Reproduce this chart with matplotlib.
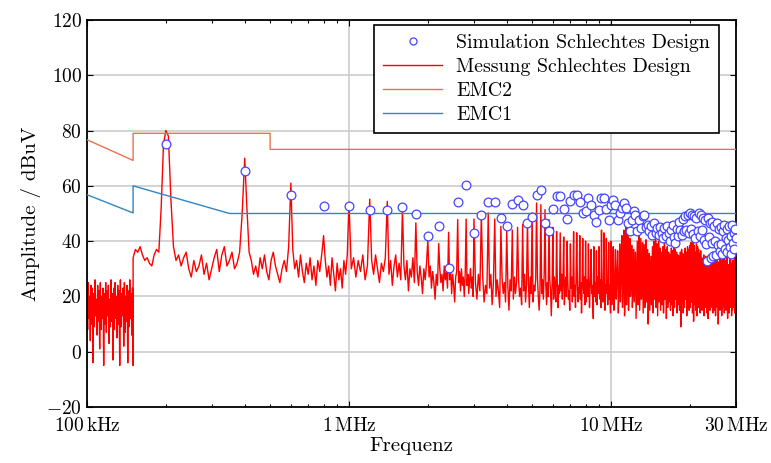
import numpy as np
import matplotlib.pyplot as plt
from matplotlib.ticker import FixedLocator, NullFormatter, MultipleLocator

plt.rcParams['font.family'] = ['cmr10']
plt.rcParams['mathtext.fontset'] = 'cm'
plt.rcParams['axes.formatter.use_mathtext'] = True

# harmonics of the 200 kHz switching frequency, in MHz
harm_mhz = 0.2 * np.arange(1, 151)

# simulated amplitude at every harmonic, dBuV
sim_db = [
    75.0, 65.5, 56.8, 52.6, 52.6, 51.1, 51.1, 52.3, 49.8, 41.7,
    45.3, 30.3, 54.2, 60.4, 43.1, 49.3, 54.2, 54.2, 48.5, 45.5,
    53.3, 54.9, 53.2, 46.6, 48.8, 56.7, 58.4, 46.7, 43.5, 51.8,
    56.3, 56.3, 51.6, 48.0, 54.6, 56.8, 56.8, 54.0, 50.2, 51.0,
    55.6, 53.2, 49.5, 47.1, 51.4, 55.7, 55.7, 51.6, 47.8, 53.0,
    55.0, 53.2, 47.8, 50.0, 52.0, 53.8, 52.0, 46.6, 43.5, 47.8,
    50.8, 49.5, 43.5, 47.8, 44.7, 49.0, 49.6, 45.0, 46.0, 43.5,
    45.5, 42.3, 46.6, 43.0, 44.7, 42.3, 45.0, 43.0, 41.1, 44.7,
    42.0, 45.5, 42.9, 39.9, 44.0, 45.9, 41.5, 39.3, 44.5, 42.0,
    47.1, 44.1, 42.3, 48.0, 43.5, 49.0, 44.0, 49.5, 43.0, 50.0,
    44.5, 49.5, 42.5, 49.0, 41.0, 48.5, 43.5, 50.0, 42.0, 49.5,
    44.0, 48.5, 40.5, 47.5, 39.0, 32.7, 48.5, 41.5, 46.5, 34.0,
    47.0, 39.5, 34.5, 45.5, 40.0, 35.0, 46.5, 38.5, 44.5, 36.5,
    45.0, 39.0, 35.5, 43.5, 46.0, 37.0, 41.0, 44.5, 36.0, 40.5,
    45.5, 38.0, 42.0, 35.5, 46.0, 39.5, 43.0, 37.0, 44.5, 41.0,
]

# measured spectrum: value at each harmonic
meas_peak_db = [
    80, 70, 61, 42, 54, 55.2, 54.4, 51.4, 46.6, 40.5,
    39.1, 43.2, 47.8, 48.0, 48.0, 49.6, 50.2, 48.0, 45.3, 43.5,
    44.0, 45.0, 46.0, 47.8, 50.2, 53.8, 53.2, 51.4, 47.8, 45.0,
    43.5, 43.0, 41.5, 40.0, 39.0, 43.4, 43.0, 42.0, 41.0, 40.0,
    39.0, 37.0, 38.0, 36.5, 38.0, 44.0, 43.0, 41.0, 39.5, 40.0,
    38.0, 37.0, 36.5, 39.0, 42.0, 44.0, 45.0, 43.5, 41.0, 38.5,
    37.0, 36.0, 40.0, 42.0, 41.0, 39.5, 38.7, 40.5, 37.0, 35.5,
    34.5, 38.0, 40.0, 40.5, 39.0, 40.0, 37.5, 36.0, 38.0, 39.5,
    37.0, 38.0, 36.0, 35.0, 37.5, 36.5, 38.5, 37.0, 36.0, 35.0,
    34.5, 36.0, 37.0, 35.5, 34.0, 37.5, 36.0, 38.0, 37.0, 38.5,
    39.5, 37.5, 40.0, 38.5, 36.0, 39.0, 38.0, 37.0, 35.5, 36.5,
    34.0, 33.5, 35.0, 32.0, 34.5, 31.5, 33.0, 34.0, 32.5, 35.0,
    33.5, 36.0, 34.0, 32.0, 33.5, 35.5, 34.5, 32.5, 31.0, 34.0,
    35.0, 33.0, 31.5, 34.5, 36.0, 33.0, 32.0, 35.5, 34.0, 31.5,
    30.5, 33.5, 35.0, 32.0, 30.0, 33.0, 31.5, 34.5, 33.0, 30.0,
]

# measured spectrum: 100 kHz .. 150 kHz
meas_below_150k = [
    22, 8, 25, 12, 20, 4, 24, 10, 23, -4, 21, 9, 26, 13, 19, 6, 24, 11, 22, 1,
    25, 8, 20, 12, 23, -5, 21, 10, 25, 7, 22, 13, 24, 3, 19, 9, 26, 11, 21, -3,
    23, 8, 25, 12, 20, 5, 24, 10, 22, -5, 26, 9, 21, 13, 23, 2, 25, 7, 20, 11,
    24, -4, 22, 9, 26, 12, 21, 6, 23, -5,
]

# measured spectrum: 150 kHz .. first harmonic
meas_150k_200k = [34, 37, 36, 38, 35, 33, 34, 32, 31, 35, 37, 36, 52, 75]

# measured spectrum between the harmonics 200k-400k-600k-800k-1M
meas_gap_lf = [
    [78, 55, 38, 33, 35, 31, 34, 36, 30, 27, 33, 29, 31, 35, 28,
     32, 26, 30, 34, 37, 29, 35, 38, 31, 33, 36, 30, 32, 36, 50],
    [52, 36, 33, 28, 31, 27, 34, 30, 35, 29, 26, 33, 36, 31, 28,
     25, 30, 33, 29, 38],
    [37, 30, 33, 27, 35, 29, 25, 32, 28, 34, 26, 31, 24, 33, 29, 35],
    [33, 27, 31, 24, 34, 28, 22, 32, 26, 30, 23, 33, 28, 35],
]

# between harmonics 1 MHz .. 3 MHz, 8 values per gap
meas_gap_1_3 = [
    30, 34, 27, 33, 29, 35, 26, 31,
    33, 28, 35, 30, 25, 32, 29, 34,
    28, 33, 24, 31, 35, 27, 32, 26,
    31, 26, 33, 22, 30, 27, 34, 25,
    29, 24, 31, 27, 21, 30, 26, 32,
    27, 31, 23, 29, 25, 19, 28, 24,
    30, 25, 28, 22, 31, 26, 29, 23,
    26, 30, 21, 28, 24, 18, 27, 29,
    25, 29, 22, 30, 24, 27, 20, 28,
    24, 28, 21, 26, 30, 23, 27, 20,
]

# between harmonics 3 MHz .. 10 MHz, 4 values per gap
meas_gap_3_10 = [
    25, 19, 28, 22, 27, 18, 24, 21, 23, 28, 17, 25, 20, 26, 22, 16,
    27, 21, 25, 18, 24, 15, 26, 22, 19, 27, 21, 25, 26, 20, 23, 17,
    22, 28, 18, 24, 25, 16, 27, 21, 18, 24, 22, 26, 27, 20, 15, 23,
    21, 26, 19, 28, 24, 17, 25, 20, 26, 22, 13, 24, 19, 27, 23, 18,
    25, 16, 24, 21, 22, 28, 19, 26, 17, 23, 27, 20, 26, 19, 22, 15,
    23, 27, 18, 25, 20, 24, 16, 26, 27, 18, 23, 21, 19, 25, 14, 24,
    24, 21, 27, 17, 18, 26, 22, 20, 25, 16, 23, 27, 21, 24, 19, 12,
    26, 20, 25, 18, 17, 27, 21, 23, 24, 19, 26, 16, 22, 25, 18, 27,
    20, 15, 24, 21, 26, 22, 17, 25, 19, 24, 21, 14,
]

# between harmonics 10 MHz .. 30 MHz, 2 values per gap
meas_gap_10_30 = [
    17, 26, 15, 24, 19, 27, 14, 23, 18, 28, 16, 25, 13, 22, 17, 27, 15, 24, 20, 26,
    16, 23, 18, 27, 12, 25, 17, 22, 15, 28, 19, 24, 14, 26, 16, 23, 18, 27, 10, 25,
    15, 24, 17, 28, 14, 22, 19, 26, 16, 25, 13, 27, 18, 23, 15, 26, 17, 24, 14, 28,
    19, 25, 12, 23, 16, 27, 18, 24, 15, 26, 17, 22, 13, 28, 16, 25, 19, 23, 14, 27,
    17, 24, 15, 26, 9, 25, 18, 28, 14, 23, 16, 27, 19, 24, 13, 26, 17, 22, 15, 28,
    16, 25, 18, 23, 14, 27, 11, 24, 17, 26, 15, 28, 13, 22, 18, 25, 16, 27, 14, 24,
    19, 26, 15, 23, 17, 28, 13, 25, 16, 24, 18, 27, 14, 26, 12, 23, 17, 25, 15, 28,
    16, 24, 19, 27, 14, 25, 17, 22, 15, 26, 13, 28, 18, 24, 16, 27, 10, 23, 17, 26,
    15, 25, 18, 28, 13, 24, 16, 26, 19, 23, 14, 27, 17, 25, 15, 22, 18, 28, 12, 24,
    17, 26, 14, 23, 16, 28, 18, 25, 13, 27, 15, 24, 19, 26, 16, 23, 14, 28, 17, 25,
]

# limit lines
emc1_f = [0.1, 0.15, 0.15, 0.35, 30]
emc1_db = [56.8, 50.2, 60.0, 50.0, 50.0]
emc2_f = [0.1, 0.15, 0.15, 0.5, 0.5, 30]
emc2_db = [76.7, 69.2, 79.0, 79.0, 73.2, 73.2]

x_ticks = [0.1, 1, 10, 30]
x_ticklabels = [r'$100\,\mathrm{kHz}$', r'$1\,\mathrm{MHz}$',
                r'$10\,\mathrm{MHz}$', r'$30\,\mathrm{MHz}$']


def gap_freqs(f0, f1, n):
    # n points evenly spaced on the log axis, strictly between two harmonics
    return np.geomspace(f0, f1, n + 2)[1:-1]


gaps = list(meas_gap_lf)
gaps += [meas_gap_1_3[i:i + 8] for i in range(0, len(meas_gap_1_3), 8)]
gaps += [meas_gap_3_10[i:i + 4] for i in range(0, len(meas_gap_3_10), 4)]
gaps += [meas_gap_10_30[i:i + 2] for i in range(0, len(meas_gap_10_30), 2)]

f_parts = [np.geomspace(0.1, 0.15, len(meas_below_150k)),
           np.geomspace(0.15, 0.2, len(meas_150k_200k) + 1)[:-1]]
db_parts = [meas_below_150k, meas_150k_200k]
for k in range(len(harm_mhz)):
    f_parts.append([harm_mhz[k]])
    db_parts.append([meas_peak_db[k]])
    if k < len(gaps):
        f_parts.append(gap_freqs(harm_mhz[k], harm_mhz[k + 1], len(gaps[k])))
        db_parts.append(gaps[k])
meas_f = np.concatenate(f_parts)
meas_db = np.concatenate(db_parts)

fig = plt.figure(figsize=(7.71, 4.63), dpi=100)
ax = fig.add_axes([0.1128, 0.121, 0.8418, 0.8358])

l_meas, = ax.plot(meas_f, meas_db, color='#ff0000', lw=1.0, zorder=2)
l_emc2, = ax.plot(emc2_f, emc2_db, color='#e8734a', lw=1.0, zorder=3)
l_emc1, = ax.plot(emc1_f, emc1_db, color='#2f86c6', lw=1.0, zorder=3)
l_sim, = ax.plot(harm_mhz, sim_db, 'o', ls='none', ms=6.3, mfc='white',
                 mec='#4545ff', mew=0.9, zorder=4)

ax.set_xscale('log')
ax.set_xlim(0.1, 30)
ax.set_ylim(-20, 120)
ax.xaxis.set_major_locator(FixedLocator(x_ticks))
ax.set_xticklabels(x_ticklabels)
ax.xaxis.set_minor_formatter(NullFormatter())
ax.yaxis.set_major_locator(MultipleLocator(20))

ax.grid(True, which='major', color='#cccccc', lw=1.2, zorder=0)
ax.set_axisbelow(True)
ax.tick_params(which='both', direction='in', top=True, right=True,
               labelsize=14, width=0.8)
ax.tick_params(which='major', length=4)
ax.tick_params(which='minor', length=2.5)
ax.tick_params(axis='x', which='major', pad=7)
for s in ax.spines.values():
    s.set_linewidth(1.3)

ax.set_xlabel('Frequenz', fontsize=15, labelpad=2)
ax.set_ylabel('Amplitude / dBuV', fontsize=15)

leg = ax.legend([l_sim, l_meas, l_emc2, l_emc1],
                ['Simulation Schlechtes Design', 'Messung Schlechtes Design',
                 'EMC2', 'EMC1'],
                loc='upper right', bbox_to_anchor=(0.974, 0.987),
                borderaxespad=0, fontsize=14.3, handlelength=3.0,
                handletextpad=0.7, labelspacing=0.3, borderpad=0.45,
                fancybox=False, framealpha=1, edgecolor='black',
                markerscale=0.8)
leg.get_frame().set_linewidth(1.2)

fig.savefig('out.png', dpi=100)
